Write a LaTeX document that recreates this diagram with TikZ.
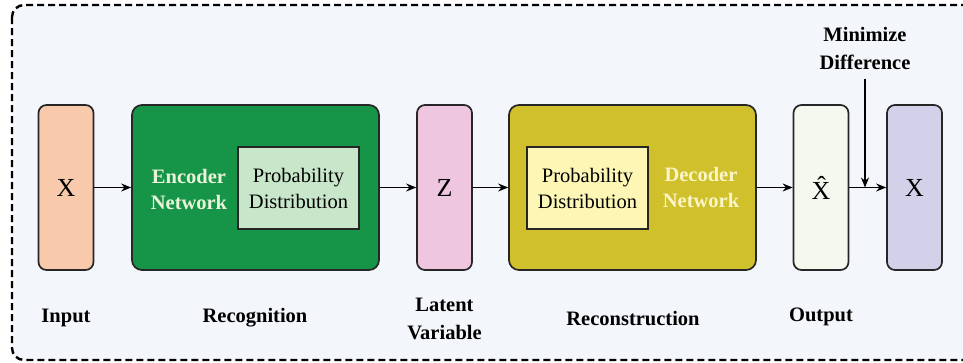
\documentclass[tikz,border=0pt]{standalone}
\usepackage{fontspec}
\setmainfont{Liberation Serif}
\usetikzlibrary{arrows.meta}
\definecolor{bgpanel}{RGB}{243,246,250}
\definecolor{inputfill}{RGB}{249,201,171}
\definecolor{encfill}{RGB}{22,148,72}
\definecolor{encinner}{RGB}{200,230,201}
\definecolor{latfill}{RGB}{238,198,224}
\definecolor{decfill}{RGB}{207,192,44}
\definecolor{decinner}{RGB}{253,246,181}
\definecolor{outfill}{RGB}{244,248,238}
\definecolor{origfill}{RGB}{211,209,234}
\definecolor{enctext}{RGB}{234,244,218}
\definecolor{dectext}{RGB}{251,245,200}
\tikzset{
  vecbox/.style={draw=black!85,line width=1.7pt,rounded corners=8pt,
    minimum width=55pt,minimum height=165pt,inner sep=0pt,
    font=\fontsize{26}{30}\selectfont},
  netbox/.style={draw=black!85,line width=1.7pt,rounded corners=10pt,
    minimum width=247pt,minimum height=165pt,inner sep=0pt},
  probbox/.style={draw=black!85,line width=1.7pt,minimum width=121pt,
    minimum height=82pt,inner sep=0pt,align=center,
    font=\fontsize{20.5}{26}\selectfont},
  nettext/.style={align=center,font=\fontsize{20.5}{26}\selectfont\bfseries},
  caption/.style={align=center,font=\fontsize{20.5}{28}\selectfont\bfseries},
  flow/.style={-{Stealth[length=10pt,width=8pt]},line width=1.3pt}
}
\begin{document}
\begin{tikzpicture}[x=1pt,y=-1pt]
  \useasboundingbox (0,0) rectangle (963,362);
  \draw[fill=bgpanel,line width=2.4pt,dash pattern=on 7pt off 4pt,rounded corners=12pt]
    (12,5) rectangle (985,360);
  % boxes
  \node[vecbox,fill=inputfill] (in) at (66,187.5) {X};
  \node[netbox,fill=encfill] (enc) at (255.5,187.5) {};
  \node[probbox,fill=encinner] (encprob) at (298.5,188) {Probability\\Distribution};
  \node[nettext,text=enctext] (enctxt) at (189,189) {Encoder\\Network};
  \node[vecbox,fill=latfill] (lat) at (444.5,187.5) {Z};
  \node[netbox,fill=decfill] (dec) at (632.5,187.5) {};
  \node[probbox,fill=decinner] (decprob) at (587.5,188) {Probability\\Distribution};
  \node[nettext,text=dectext] (dectxt) at (701,187) {Decoder\\Network};
  \node[vecbox,fill=outfill] (out) at (821,187.5) {\^{X}};
  \node[vecbox,fill=origfill] (orig) at (914.5,187.5) {X};
  % captions
  \node[caption] (incap) at (66,318) {Input};
  \node[caption] (enccap) at (255,318) {Recognition};
  \node[caption] (latcap) at (444.5,319) {Latent\\Variable};
  \node[caption] (deccap) at (633,319) {Reconstruction};
  \node[caption] (outcap) at (821,317) {Output};
  \node[caption] (mincap) at (865,48) {Minimize\\Difference};
  % arrows
  \draw[flow] (in) -- (enc);
  \draw[flow] (enc) -- (lat);
  \draw[flow] (lat) -- (dec);
  \draw[flow] (dec) -- (out);
  \draw[flow] (out) -- (orig);
  \coordinate (meet) at (865,187.5);
  \draw[flow] (mincap.south -| meet) ++(0,6) -- (meet);
\end{tikzpicture}
\end{document}
